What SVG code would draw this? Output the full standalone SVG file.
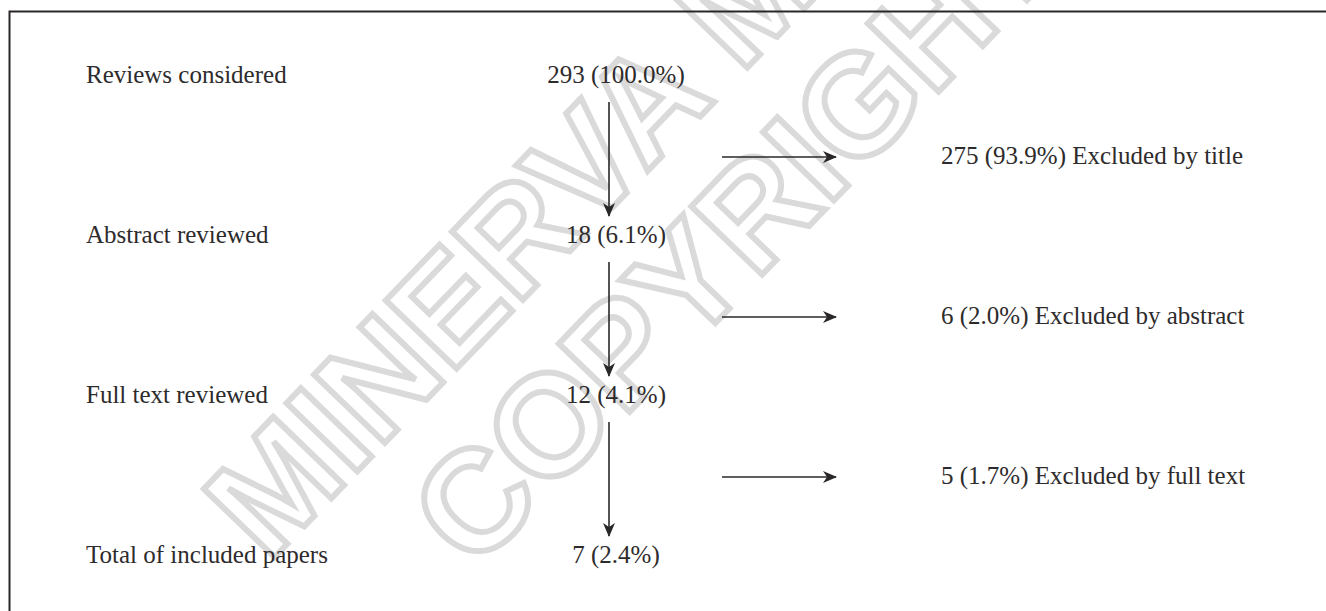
<svg xmlns="http://www.w3.org/2000/svg" width="1326" height="611" viewBox="0 0 1326 611">
<defs>
<style>
.t{font-family:"Liberation Serif","Times New Roman",serif;font-size:25px;fill:#2e2b2c}
.c{text-anchor:middle}
.wm{font-family:"Liberation Sans",Arial,sans-serif;font-weight:bold;font-size:143px;fill:none;stroke:#dadada;stroke-width:6;stroke-linejoin:miter}
.ln{stroke:#2a2728;stroke-width:1.6;fill:none}
</style>
<marker id="ah" viewBox="0 0 14 12" refX="13" refY="6" markerWidth="14" markerHeight="12" markerUnits="userSpaceOnUse" orient="auto">
<path d="M0,0 L14,6 L0,12 L4,6 Z" fill="#2a2728"/>
</marker>
</defs>
<rect x="0" y="0" width="1326" height="611" fill="#ffffff"/>
<g id="watermark">
<text class="wm" transform="translate(268,564) rotate(-46)">MINERVA MEDICA</text>
<text class="wm" transform="translate(474,573) rotate(-46)">COPYRIGHT</text>
</g>
<rect id="frame" x="9.5" y="11.5" width="1330" height="620" fill="none" stroke="#2a2728" stroke-width="2"/>
<g id="labels">
<text class="t" x="86" y="83">Reviews considered</text>
<text class="t" x="86" y="243">Abstract reviewed</text>
<text class="t" x="86" y="403">Full text reviewed</text>
<text class="t" x="86" y="563">Total of included papers</text>
</g>
<g id="n-reviews"><text class="t c" x="616" y="83">293 (100.0%)</text></g>
<g id="n-abstract"><text class="t c" x="616" y="243">18 (6.1%)</text></g>
<g id="n-fulltext"><text class="t c" x="616" y="403">12 (4.1%)</text></g>
<g id="n-included"><text class="t c" x="616" y="563">7 (2.4%)</text></g>
<g id="x-title"><text class="t" x="941" y="164">275 (93.9%) Excluded by title</text></g>
<g id="x-abstract"><text class="t" x="941" y="324">6 (2.0%) Excluded by abstract</text></g>
<g id="x-fulltext"><text class="t" x="941" y="484">5 (1.7%) Excluded by full text</text></g>
<g id="connectors">
<line class="ln" x1="609" y1="102" x2="609" y2="216" marker-end="url(#ah)"/>
<line class="ln" x1="609" y1="262" x2="609" y2="376" marker-end="url(#ah)"/>
<line class="ln" x1="609" y1="422" x2="609" y2="536" marker-end="url(#ah)"/>
<line class="ln" x1="722" y1="157" x2="836" y2="157" marker-end="url(#ah)"/>
<line class="ln" x1="722" y1="317" x2="836" y2="317" marker-end="url(#ah)"/>
<line class="ln" x1="722" y1="477" x2="836" y2="477" marker-end="url(#ah)"/>
</g>
</svg>
